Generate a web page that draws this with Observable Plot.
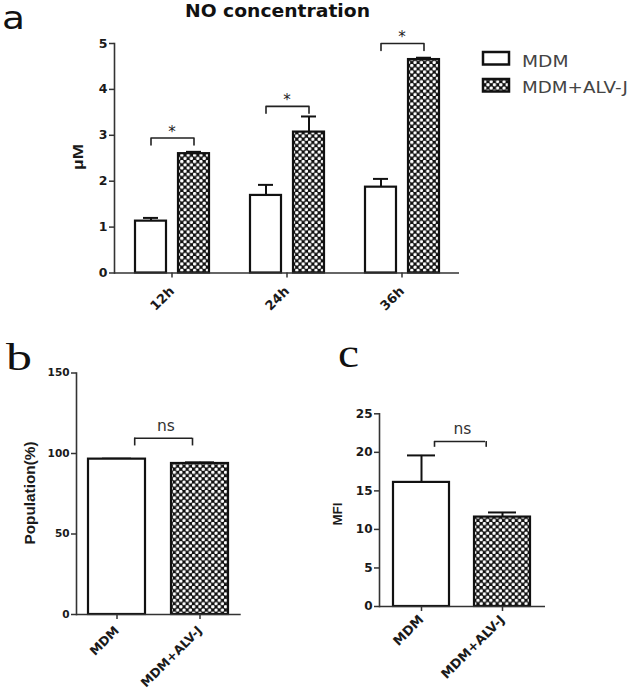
<!DOCTYPE html>
<html><head><meta charset="utf-8">
<script src="https://cdn.jsdelivr.net/npm/d3@7"></script>
<script src="https://cdn.jsdelivr.net/npm/@observablehq/plot@0.6"></script>
<style>
body{margin:0;background:#fff}
#wrap{position:relative;width:630px;height:694px;overflow:hidden;background:#fff}
.panel{position:absolute}
#overlay{position:absolute;left:0;top:0;pointer-events:none}
</style></head><body>
<div id="wrap">
<div class="panel" id="pa" style="left:0;top:0"></div>
<div class="panel" id="pb" style="left:0;top:330px"></div>
<div class="panel" id="pc" style="left:310px;top:330px"></div>
<svg id="overlay" width="630" height="694">
<defs><pattern id="chk" patternUnits="userSpaceOnUse" width="6.4" height="6.4">
<rect width="6.4" height="6.4" fill="#111"/>
<circle cx="1.6" cy="1.6" r="1.7" fill="#fff"/>
<circle cx="4.8" cy="4.8" r="1.7" fill="#fff"/>
</pattern></defs>
<text x="2" y="29.3" textLength="23" lengthAdjust="spacingAndGlyphs" font-family="DejaVu Sans" font-size="31.5" fill="#111">a</text>
<text x="185" y="17" textLength="185" lengthAdjust="spacingAndGlyphs" font-family="DejaVu Sans" font-weight="bold" font-size="17" fill="#111">NO concentration</text>
<rect x="483" y="52" width="26" height="12.5" fill="#fff" stroke="#111" stroke-width="2.5"/>
<rect x="483" y="79" width="26" height="12.5" fill="url(#chk)" stroke="#111" stroke-width="2.5"/>
<text id="leg0" x="522" y="67" textLength="46.5" lengthAdjust="spacingAndGlyphs" font-family="DejaVu Sans" font-size="16.5" fill="#444"></text>
<text id="leg1" x="522" y="93" textLength="106" lengthAdjust="spacingAndGlyphs" font-family="DejaVu Sans" font-size="16.5" fill="#444"></text>
<text x="6" y="370" textLength="26" lengthAdjust="spacingAndGlyphs" font-family="Liberation Serif" font-size="38" fill="#111">b</text>
<text x="338" y="367" textLength="21" lengthAdjust="spacingAndGlyphs" font-family="Liberation Serif" font-size="40" fill="#111">c</text>
<text transform="translate(77.5,157) rotate(-90)" text-anchor="middle" dominant-baseline="central" textLength="26" lengthAdjust="spacingAndGlyphs" font-family="Liberation Sans" font-weight="bold" font-size="15" fill="#1a1a1a">µM</text>
<text transform="translate(29.5,493) rotate(-90)" text-anchor="middle" dominant-baseline="central" textLength="103" lengthAdjust="spacingAndGlyphs" font-family="Liberation Sans" font-weight="bold" font-size="14" fill="#1a1a1a">Population(%)</text>
<text transform="translate(337.5,514) rotate(-90)" text-anchor="middle" dominant-baseline="central" textLength="23" lengthAdjust="spacingAndGlyphs" font-family="Liberation Sans" font-weight="bold" font-size="13.5" fill="#1a1a1a">MFI</text>
</svg>
</div>
<script>
// ---- data ----
const times = ["12h", "24h", "36h"];
const groups = ["MDM", "MDM+ALV-J"];
const noMDM = [1.13, 1.69, 1.87];
const noMDMerr = [0.07, 0.23, 0.18];
const noALV = [2.60, 3.07, 4.65];
const noALVerr = [0.04, 0.34, 0.04];
const noBracket = [2.94, 3.63, 5.0];
const noTicks = [0, 1, 2, 3, 4, 5];

const popMean = [96.5, 93.8];
const popErr = [0.3, 0.7];
const popBracket = 109.5;
const popTicks = [0, 50, 100, 150];

const mfiMean = [16.1, 11.6];
const mfiErr = [3.5, 0.6];
const mfiBracket = 21.4;
const mfiTicks = [0, 5, 10, 15, 20, 25];

document.getElementById("leg0").textContent = groups[0];
document.getElementById("leg1").textContent = groups[1];

const INK = "#111";
const AX = "#333";
const intFmt = d3.format("d");
const baseStyle = {fontFamily: "DejaVu Sans", fontWeight: "bold", color: "#1a1a1a", background: "transparent", overflow: "visible"};

// ---- panel a ----
const aRows = times.flatMap((t, i) => [
  {t, g: groups[0], v: noMDM[i], e: noMDMerr[i]},
  {t, g: groups[1], v: noALV[i], e: noALVerr[i]}
]);
const aDrop = 0.15;
const aBr = times.flatMap((t, i) => [
  {t, g: groups[0], y: noBracket[i] - aDrop},
  {t, g: groups[0], y: noBracket[i]},
  {t, g: groups[1], y: noBracket[i]},
  {t, g: groups[1], y: noBracket[i] - aDrop}
]);
const aStar = times.map((t, i) => ({t, y: noBracket[i]}));

const pa = Plot.plot({
  width: 470, height: 330,
  marginLeft: 113, marginRight: 10, marginTop: 43, marginBottom: 57.5,
  style: {...baseStyle, fontSize: "12px"},
  fx: {domain: times, padding: 0},
  x: {domain: groups, paddingInner: 0.29, paddingOuter: 0.474, axis: null},
  y: {domain: [0, 5]},
  color: {domain: groups, range: ["white", "url(#chk)"]},
  marks: [
    Plot.ruleX(aRows, {fx: "t", x: "g", y1: "v", y2: d => d.v + d.e, stroke: INK, strokeWidth: 2}),
    Plot.tickY(aRows, {fx: "t", x: "g", y: d => d.v + d.e, stroke: INK, strokeWidth: 2, insetLeft: 8, insetRight: 8}),
    Plot.barY(aRows, {fx: "t", x: "g", y: "v", fill: "g", stroke: INK, strokeWidth: 2.2}),
    Plot.line(aBr, {fx: "t", x: "g", y: "y", z: "t", stroke: "#222", strokeWidth: 1.6, strokeLinejoin: "round"}),
    Plot.text(aStar, {fx: "t", y: "y", text: () => "*", frameAnchor: "middle", dy: -6, fontSize: 15, fontWeight: "normal", fill: "#222"}),
    Plot.ruleY([0], {stroke: AX, strokeWidth: 1.6}),
    Plot.frame({anchor: "left", facetAnchor: "left", stroke: AX, strokeWidth: 1.6}),
    Plot.axisY({ticks: noTicks, tickFormat: intFmt, tickSize: 5, tickPadding: 2, label: null, strokeWidth: 1.5, stroke: AX, fontSize: 12.5}),
    Plot.axisFx({anchor: "bottom", tickSize: 5, tickPadding: 11, tickRotate: -45, label: null, strokeWidth: 1.5, stroke: AX, fontSize: 13})
  ]
});
document.getElementById("pa").appendChild(pa);

// ---- panels b & c ----
function smallPanel({mean, err, bracket, drop, ticks, domain, margins, pad, fs, xfs, xpad, brInset, brDx, nsDx, nsDy, capInset}) {
  const rows = groups.map((g, i) => ({g, v: mean[i], e: err[i]}));
  const br = [{y: bracket, a: groups[0], b: groups[1]}];
  return Plot.plot({
    width: 260, height: 364,
    ...margins,
    style: {...baseStyle, fontSize: fs + "px"},
    x: {domain: groups, paddingInner: pad[0], paddingOuter: pad[1]},
    y: {domain},
    color: {domain: groups, range: ["white", "url(#chk)"]},
    marks: [
      Plot.ruleX(rows, {x: "g", y1: "v", y2: d => d.v + d.e, stroke: INK, strokeWidth: 2}),
      Plot.tickY(rows, {x: "g", y: d => d.v + d.e, stroke: INK, strokeWidth: 2, insetLeft: capInset, insetRight: capInset}),
      Plot.barY(rows, {x: "g", y: "v", fill: "g", stroke: INK, strokeWidth: 2.2}),
      Plot.ruleY(br, {y: "y", x1: "a", x2: "b", insetLeft: brInset[0], insetRight: brInset[1], stroke: "#222", strokeWidth: 1.6}),
      Plot.ruleX(br, {x: "a", y1: d => d.y - drop, y2: "y", dx: brDx[0], stroke: "#222", strokeWidth: 1.6}),
      Plot.ruleX(br, {x: "b", y1: d => d.y - drop, y2: "y", dx: brDx[1], stroke: "#222", strokeWidth: 1.6}),
      Plot.text(br, {y: "y", text: () => "ns", frameAnchor: "middle", dx: nsDx, dy: nsDy, fontSize: 15.5, fontWeight: "normal", fill: "#333"}),
      Plot.ruleY([0], {stroke: AX, strokeWidth: 1.6}),
      Plot.frame({anchor: "left", stroke: AX, strokeWidth: 1.6}),
      Plot.axisY({ticks, tickFormat: intFmt, tickSize: 5, tickPadding: 2, label: null, strokeWidth: 1.5, stroke: AX}),
      Plot.axisX({tickSize: 5, tickPadding: xpad, tickRotate: -45, label: null, strokeWidth: 1.5, stroke: AX, fontSize: xfs})
    ]
  });
}

const pb = smallPanel({
  mean: popMean, err: popErr, bracket: popBracket, drop: 4.8, ticks: popTicks, domain: [0, 150],
  margins: {marginLeft: 76, marginRight: 19.3, marginTop: 42.5, marginBottom: 80},
  pad: [0.316, 0.146], fs: 10.5, xfs: 12.5, xpad: 9, brInset: [46, 36], brDx: [17.7, -7.5], nsDx: 7, nsDy: -12, capInset: 14
});
document.getElementById("pb").appendChild(pb);

const pc = smallPanel({
  mean: mfiMean, err: mfiErr, bracket: mfiBracket, drop: 0.75, ticks: mfiTicks, domain: [0, 25],
  margins: {marginLeft: 69, marginRight: 25, marginTop: 83.3, marginBottom: 88},
  pad: [0.306, 0.167], fs: 12, xfs: 13, xpad: 6, brInset: [41, 45], brDx: [13, -16.3], nsDx: 0, nsDy: -13, capInset: 14
});
document.getElementById("pc").appendChild(pc);
</script>
</body></html>
